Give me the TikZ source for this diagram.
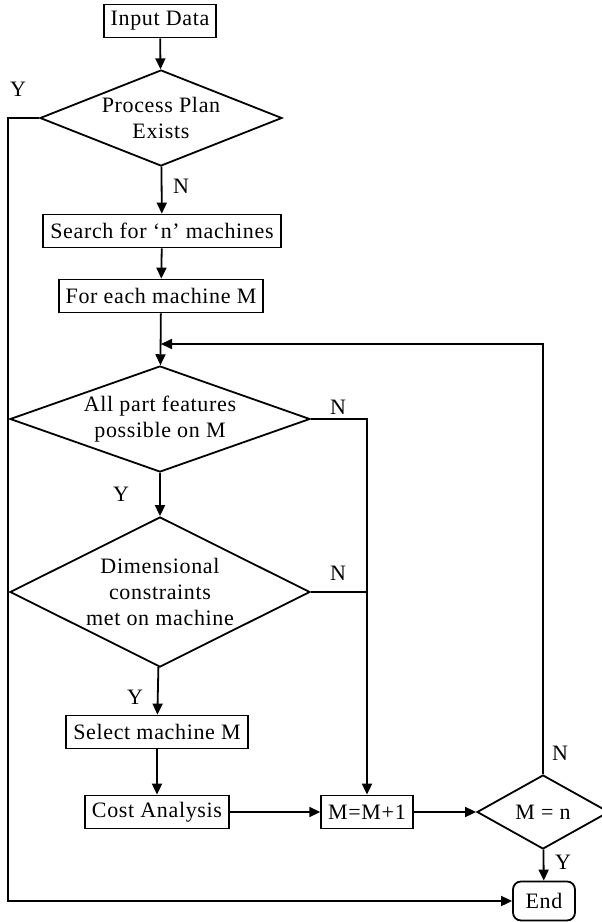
\documentclass[tikz,border=0pt]{standalone}
\usepackage{fontspec}
\setmainfont{Liberation Serif}[LetterSpace=3]
\usetikzlibrary{shapes.geometric, arrows.meta}

\begin{document}
\begin{tikzpicture}[x=0.5pt, y=-0.5pt, line width=0.9pt,
		font=\fontsize{11}{13}\selectfont,
		box/.style={draw, rectangle, inner xsep=3.5pt, inner ysep=0pt, minimum height=16.5pt},
		cond/.style={draw, diamond, inner sep=0pt, align=center},
		arr/.style={-{Triangle[length=5.5pt, width=5pt]}},
		lbl/.style={inner sep=0pt}]
		\useasboundingbox (0,0) rectangle (601,922);
		
		\node [box] (input) at (160,21) {Input Data};
		\node [cond, minimum width=121pt, minimum height=48pt, aspect=2.52] (plan) at (161,118) {Process Plan\\Exists};
		\node [box] (search) at (162,231) {Search for ‘n’ machines};
		\node [box] (each) at (161,296) {For each machine M};
		\node [cond, minimum width=150pt, minimum height=53pt, aspect=2.83] (feat) at (160,419) {All part features\\possible on M};
		\node [cond, minimum width=150pt, minimum height=75pt, aspect=2] (dims) at (160,592) {Dimensional\\constraints\\met on machine};
		\node [box] (select) at (157,732) {Select machine M};
		\node [box] (cost) at (157,812) {Cost Analysis};
		\node [box] (inc) at (367,812) {M=M+1};
		\node [cond, minimum width=66pt, minimum height=37pt, aspect=1.78] (mtest) at (543,812) {M = n};
		\node [box, rounded corners=4pt, minimum width=31pt, minimum height=19.5pt] (end) at (544,901) {End};
		
		\node [lbl] (yplan) at (18,89) {Y};
		\node [lbl] (nplan) at (181,186) {N};
		\node [lbl] (nfeat) at (338,407) {N};
		\node [lbl] (yfeat) at (121,494) {Y};
		\node [lbl] (ndims) at (338,573) {N};
		\node [lbl] (ydims) at (135,697) {Y};
		\node [lbl] (ntest) at (560,753) {N};
		\node [lbl] (ytest) at (563,862) {Y};
		
		\coordinate (lft) at (8,118);
		\coordinate (join) at (161,344);
		
		\draw [arr] (input) -- (plan);
		\draw [arr] (plan) -- (search);
		\draw [arr] (search) -- (each);
		\draw [arr] (each) -- (feat);
		\draw [arr] (feat) -- (dims);
		\draw [arr] (dims) -- (select);
		\draw [arr] (select) -- (cost);
		\draw [arr] (cost) -- (inc);
		\draw [arr] (inc) -- (mtest);
		\draw [arr] (mtest) -- (end);
		
		\draw [arr] (plan.west) -- (lft) |- (end.west);
		\draw [arr] (mtest.north) |- (join);
		\draw [arr] (feat.east) -| (inc.north);
		\draw (dims.east) -- (dims.east -| inc.north);
	\end{tikzpicture}
\end{document}
